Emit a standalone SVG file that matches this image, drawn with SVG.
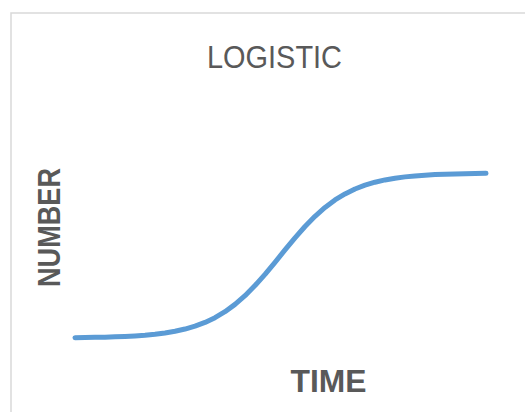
<svg xmlns="http://www.w3.org/2000/svg" width="525" height="412" viewBox="0 0 525 412">
<style>
.lbl{font-family:"Liberation Sans",Arial,sans-serif;fill:#595959;text-anchor:middle}
.title{font-size:31px;font-weight:normal}
.axis{font-size:32px;font-weight:bold}
.frame{stroke:#D9D9D9;stroke-width:1.5;fill:none}
.curve{stroke:#5B9BD5;stroke-width:5;fill:none;stroke-linecap:round;stroke-linejoin:round}
</style>
<rect width="525" height="412" fill="#FFFFFF"/>
<g id="frame">
<path class="frame" d="M11 413 V13 H526"/>
</g>
<g id="title"><text class="lbl title" x="274.5" y="68" textLength="135" lengthAdjust="spacingAndGlyphs">LOGISTIC</text></g>
<g id="y-axis-label"><text class="lbl axis" transform="translate(60 227.5) rotate(-90)" x="0" y="0" textLength="119" lengthAdjust="spacingAndGlyphs">NUMBER</text></g>
<g id="x-axis-label"><text class="lbl axis" x="328.5" y="391.5" textLength="76" lengthAdjust="spacingAndGlyphs">TIME</text></g>
<g id="connectors">
<polyline class="curve" points="75,337.65 85,337.53 95,337.36 105,337.14 115,336.85 125,336.45 135,335.91 145,335.19 155,334.23 165,332.96 175,331.28 185,329.05 195,326.16 205,322.41 215,317.64 225,311.68 235,304.36 245,295.64 255,285.53 265,274.29 275,262.28 285,249.94 295,237.88 305,226.51 315,216.31 325,207.47 335,199.98 345,193.89 355,189.02 365,185.18 375,182.21 385,179.93 395,178.18 405,176.87 415,175.89 425,175.15 435,174.6 445,174.19 455,173.88 465,173.66 475,173.49 486,173.35"/>
</g>
</svg>
